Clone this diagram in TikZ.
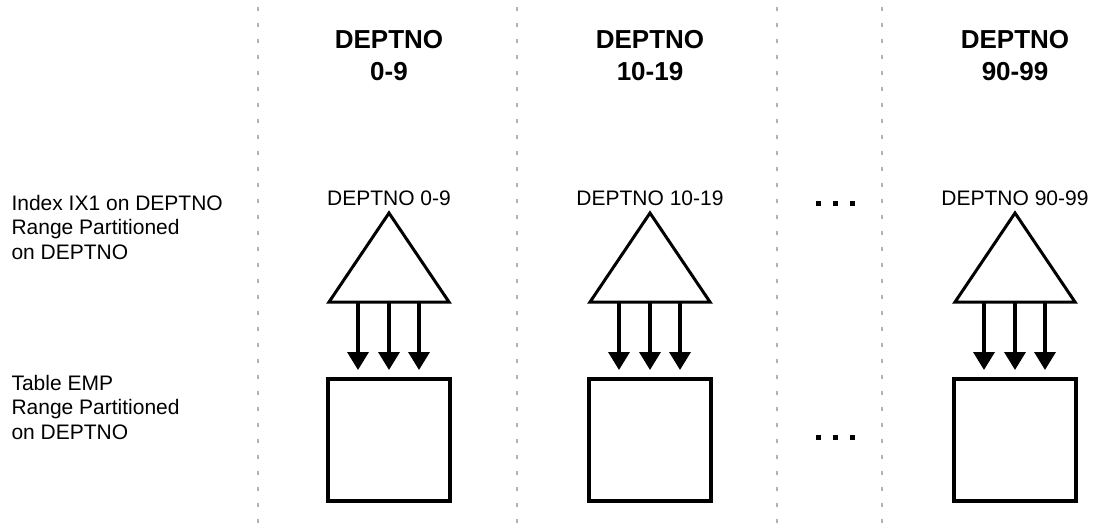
\documentclass[tikz,border=0pt]{standalone}
\usepackage{fontspec}
\setmainfont{Liberation Sans}
\usetikzlibrary{arrows.meta}
\begin{document}
\begin{tikzpicture}[x=1pt,y=-1pt,
  sep/.style={draw=black!30, line width=2pt, dash pattern=on 4pt off 12pt},
  head/.style={font=\fontsize{26}{32}\selectfont\bfseries, align=center},
  lab/.style={font=\fontsize{21}{25}\selectfont},
  side/.style={font=\fontsize{21}{24.5}\selectfont, align=left, anchor=west},
  tri/.style={draw=black, line width=3pt, line join=miter, fill=white},
  boxst/.style={draw=black, line width=3.5pt, minimum width=122pt, minimum height=122pt, inner sep=0pt, fill=white},
  flow/.style={line width=3.5pt, -{Triangle[width=21pt,length=18pt]}},
  dot/.style={fill=black}
]
\useasboundingbox (0,0) rectangle (1094,523);
% separators
\coordinate (s1t) at (258,7); \coordinate (s1b) at (258,523);
\coordinate (s2t) at (517,7); \coordinate (s2b) at (517,523);
\coordinate (s3t) at (777,7); \coordinate (s3b) at (777,523);
\coordinate (s4t) at (882,7); \coordinate (s4b) at (882,523);
\draw[sep] (s1t) -- (s1b);
\draw[sep] (s2t) -- (s2b);
\draw[sep] (s3t) -- (s3b);
\draw[sep] (s4t) -- (s4b);
% side labels
\node[side] (idx) at (8,227) {Index IX1 on DEPTNO\\Range Partitioned\\on DEPTNO};
\node[side] (tab) at (8,407) {Table EMP\\Range Partitioned\\on DEPTNO};
% columns
\foreach \c/\h/\t in {389/0-9/a, 650/10-19/b, 1015/90-99/c}{
  \node[head] (h\t) at (\c,56) {DEPTNO\\\h};
  \node[lab] (l\t) at (\c,198) {DEPTNO \h};
  \coordinate (ap\t) at (\c,213);
  \coordinate (bl\t) at (\c-60,302);
  \coordinate (br\t) at (\c+60,302);
  \draw[tri] (ap\t) -- (bl\t) -- (br\t) -- cycle;
  \node[boxst] (b\t) at (\c,440) {};
  \coordinate (s1\t) at (\c-31,302); \coordinate (e1\t) at (\c-31,370);
  \coordinate (s2\t) at (\c,302);    \coordinate (e2\t) at (\c,370);
  \coordinate (s3\t) at (\c+30,302); \coordinate (e3\t) at (\c+30,370);
  \draw[flow] (s1\t) -- (e1\t);
  \draw[flow] (s2\t) -- (e2\t);
  \draw[flow] (s3\t) -- (e3\t);
}
% ellipses
\foreach \x in {818,835,852}{
  \fill[dot] (\x-2.5,200.5) rectangle (\x+2.5,205.5);
  \fill[dot] (\x-2.5,434.5) rectangle (\x+2.5,439.5);
}
\end{tikzpicture}
\end{document}
